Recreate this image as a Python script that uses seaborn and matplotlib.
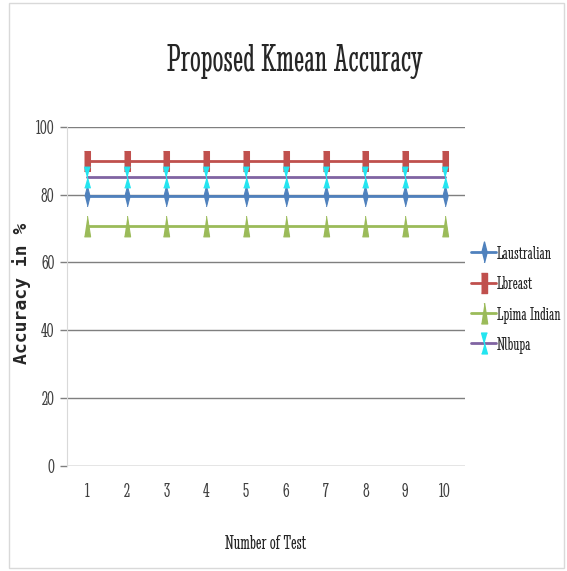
import pandas as pd
import matplotlib
matplotlib.use("Agg")
import matplotlib.pyplot as plt
import seaborn as sns
from matplotlib.lines import Line2D

# datos
tests = [1, 2, 3, 4, 5, 6, 7, 8, 9, 10]
laustralian = [79.6] * 10
lbreast = [89.8] * 10
lpima = [70.7] * 10
nlbupa = [85.2] * 10
series = ["Laustralian", "Lbreast", "Lpima Indian", "Nlbupa"]

df = pd.DataFrame({
    "test": tests * 4,
    "acc": laustralian + lbreast + lpima + nlbupa,
    "serie": [s for s in series for _ in tests],
})

sns.set_style("white")
cond = ["Stint Ultra Condensed", "DejaVu Serif"]

fig = plt.figure(figsize=(5.67, 5.71), dpi=100)
ax = fig.add_axes([0.118, 0.184, 0.702, 0.594])

pal = {"Laustralian": "#4F81BD", "Lbreast": "#C0504D",
       "Lpima Indian": "#9BBB59", "Nlbupa": "#8064A2"}
cian = "#22E5F0"
rect = [(-0.25, -1), (0.25, -1), (0.25, 1), (-0.25, 1)]
tri = [(-0.3, -1), (0.3, -1), (0, 1)]
bow = [(-0.28, -1), (0.28, -1), (-0.28, 1), (0.28, 1)]
diam = [(0, -1), (0.25, 0), (0, 1), (-0.25, 0)]
mk = {"Laustralian": diam, "Lbreast": rect, "Lpima Indian": tri, "Nlbupa": bow}
msize = 15

sns.lineplot(data=df, x="test", y="acc", hue="serie", style="serie",
             palette=pal, markers=mk, dashes=False, markersize=msize,
             linewidth=2, ax=ax, legend=False)

# relleno de marcadores (Nlbupa en cian)
for line in ax.lines:
    c = cian if line.get_color() == "#8064A2" else line.get_color()
    line.set_markerfacecolor(c)
    line.set_markeredgecolor(c)

ax.set_xlim(0.5, 10.5)
ax.set_ylim(0, 100)
ax.set_yticks([0, 20, 40, 60, 80, 100])
ax.set_xticks(tests)
ax.yaxis.grid(True, color="#7f7f7f", linewidth=1)
ax.set_axisbelow(True)
for s in ["top", "right", "bottom"]:
    ax.spines[s].set_visible(False)
ax.spines["left"].set_color("#d9d9d9")
ax.tick_params(axis="x", length=0, pad=12)
ax.tick_params(axis="y", length=5, width=1, color="#7f7f7f", pad=4, left=True)
for lab in ax.get_xticklabels() + ax.get_yticklabels():
    lab.set_fontfamily(cond)
    lab.set_fontsize(15)
    lab.set_color("#404040")

ax.set_xlabel("Number of Test", fontsize=15, family=cond)
ax.xaxis.set_label_coords(0.5, -0.205)
ax.set_ylabel("Accuracy in %", fontsize=13, fontweight="bold",
              family="DejaVu Sans Mono")
ax.yaxis.set_label_coords(-0.09, 0.51)
fig.text(0.52, 0.893, "Proposed Kmean Accuracy", ha="center", va="center",
         fontsize=28, family=cond)

# leyenda
handles = []
for s in series:
    fc = cian if s == "Nlbupa" else pal[s]
    handles.append(Line2D([], [], color=pal[s], marker=mk[s], markersize=msize,
                          markerfacecolor=fc, markeredgecolor=fc, linewidth=2))
fig.legend(handles, series, loc="center left", bbox_to_anchor=(0.81, 0.475),
           frameon=False, handlelength=1.3, handletextpad=0.05,
           labelspacing=0.65, borderaxespad=0.2, prop={"family": cond, "size": 14})

fig.patches.append(plt.Rectangle((0.015, 0.005), 0.98, 0.99, transform=fig.transFigure,
                                 fill=False, edgecolor="#d9d9d9", linewidth=1))
fig.savefig("out.png", dpi=100)
